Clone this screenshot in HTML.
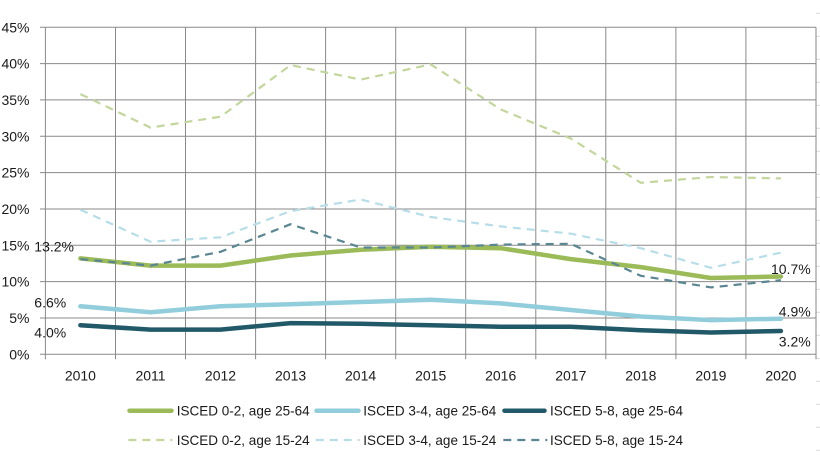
<!DOCTYPE html>
<html><head><meta charset="utf-8"><style>
html,body{margin:0;padding:0;background:#fff;}
svg{display:block;}
text{font-family:"Liberation Sans",Arial,sans-serif;font-size:14px;fill:#1a1a1a;}
</style></head><body>
<svg width="820" height="461" viewBox="0 0 820 461" xmlns="http://www.w3.org/2000/svg">
<!-- right faint ticks -->
<g stroke="#d9d9d9" stroke-width="1">
<line x1="816" y1="13.3" x2="820" y2="13.3"/><line x1="816" y1="36.3" x2="820" y2="36.3"/><line x1="816" y1="59.3" x2="820" y2="59.3"/><line x1="816" y1="82.3" x2="820" y2="82.3"/><line x1="816" y1="105.3" x2="820" y2="105.3"/><line x1="816" y1="128.3" x2="820" y2="128.3"/><line x1="816" y1="151.3" x2="820" y2="151.3"/><line x1="816" y1="174.3" x2="820" y2="174.3"/><line x1="816" y1="197.3" x2="820" y2="197.3"/><line x1="816" y1="220.3" x2="820" y2="220.3"/><line x1="816" y1="243.3" x2="820" y2="243.3"/><line x1="816" y1="266.3" x2="820" y2="266.3"/><line x1="816" y1="289.3" x2="820" y2="289.3"/><line x1="816" y1="312.3" x2="820" y2="312.3"/><line x1="816" y1="335.3" x2="820" y2="335.3"/><line x1="816" y1="358.3" x2="820" y2="358.3"/><line x1="816" y1="381.3" x2="820" y2="381.3"/><line x1="816" y1="404.3" x2="820" y2="404.3"/><line x1="816" y1="427.3" x2="820" y2="427.3"/><line x1="816" y1="450.3" x2="820" y2="450.3"/>
</g>
<!-- gridlines -->
<g stroke="#898989" stroke-width="1">
<line x1="40" y1="27.3" x2="816" y2="27.3"/>
<line x1="40" y1="63.6" x2="816" y2="63.6"/>
<line x1="40" y1="99.9" x2="816" y2="99.9"/>
<line x1="40" y1="136.3" x2="816" y2="136.3"/>
<line x1="40" y1="172.6" x2="816" y2="172.6"/>
<line x1="40" y1="209.0" x2="816" y2="209.0"/>
<line x1="40" y1="245.3" x2="816" y2="245.3"/>
<line x1="40" y1="281.6" x2="816" y2="281.6"/>
<line x1="40" y1="318.0" x2="816" y2="318.0"/>
<line x1="40" y1="354.3" x2="816" y2="354.3"/>
<line x1="45.4" y1="27.3" x2="45.4" y2="359.3"/>
<line x1="115.5" y1="27.3" x2="115.5" y2="359.3"/>
<line x1="185.5" y1="27.3" x2="185.5" y2="359.3"/>
<line x1="255.6" y1="27.3" x2="255.6" y2="359.3"/>
<line x1="325.6" y1="27.3" x2="325.6" y2="359.3"/>
<line x1="395.7" y1="27.3" x2="395.7" y2="359.3"/>
<line x1="465.7" y1="27.3" x2="465.7" y2="359.3"/>
<line x1="535.8" y1="27.3" x2="535.8" y2="359.3"/>
<line x1="605.8" y1="27.3" x2="605.8" y2="359.3"/>
<line x1="675.9" y1="27.3" x2="675.9" y2="359.3"/>
<line x1="745.9" y1="27.3" x2="745.9" y2="359.3"/>
<line x1="816" y1="27.3" x2="816" y2="359.3"/>
</g>
<!-- y labels -->
<g text-anchor="end">
<text x="29.5" y="32.3">45%</text>
<text x="29.5" y="68.6">40%</text>
<text x="29.5" y="104.9">35%</text>
<text x="29.5" y="141.3">30%</text>
<text x="29.5" y="177.6">25%</text>
<text x="29.5" y="214.0">20%</text>
<text x="29.5" y="250.3">15%</text>
<text x="29.5" y="286.6">10%</text>
<text x="29.5" y="323.0">5%</text>
<text x="29.5" y="359.3">0%</text>
</g>
<!-- x labels -->
<g text-anchor="middle" style="font-size:15px">
<text x="80.4" y="380.5">2010</text>
<text x="150.5" y="380.5">2011</text>
<text x="220.5" y="380.5">2012</text>
<text x="290.6" y="380.5">2013</text>
<text x="360.6" y="380.5">2014</text>
<text x="430.7" y="380.5">2015</text>
<text x="500.7" y="380.5">2016</text>
<text x="570.8" y="380.5">2017</text>
<text x="640.8" y="380.5">2018</text>
<text x="710.9" y="380.5">2019</text>
<text x="780.9" y="380.5">2020</text>
</g>
<!-- solid series -->
<g fill="none" stroke-width="4.5" stroke-linecap="round" stroke-linejoin="round">
<polyline stroke="#9BBB59" points="80.4,258.4 150.5,265.6 220.5,265.6 290.6,255.5 360.6,249.7 430.7,246.8 500.7,248.2 570.8,259.1 640.8,267.1 710.9,278.0 780.9,276.5"/>
<polyline stroke="#92CDDC" points="80.4,306.3 150.5,312.2 220.5,306.3 290.6,304.2 360.6,302.0 430.7,299.8 500.7,303.4 570.8,310.0 640.8,316.5 710.9,320.1 780.9,318.7"/>
<polyline stroke="#215968" points="80.4,325.2 150.5,329.6 220.5,329.6 290.6,323.1 360.6,323.8 430.7,325.2 500.7,326.7 570.8,326.7 640.8,330.3 710.9,332.5 780.9,331.0"/>
</g>
<!-- dashed series -->
<g fill="none" stroke-width="2.2" stroke-dasharray="8 6" stroke-linejoin="round">
<polyline stroke="#C3D69B" points="80.4,94.1 150.5,127.6 220.5,116.7 290.6,65.1 360.6,79.6 430.7,64.4 500.7,109.4 570.8,138.5 640.8,182.8 710.9,177.0 780.9,178.4"/>
<polyline stroke="#B7DEE8" points="80.4,209.7 150.5,241.7 220.5,237.3 290.6,211.1 360.6,199.5 430.7,217.0 500.7,226.4 570.8,233.7 640.8,248.2 710.9,267.8 780.9,252.6"/>
<polyline stroke="#5A8692" points="80.4,259.1 150.5,265.6 220.5,251.8 290.6,224.2 360.6,247.5 430.7,247.5 500.7,244.6 570.8,243.8 640.8,275.8 710.9,287.4 780.9,280.2"/>
</g>
<!-- data labels -->
<text x="34.3" y="251.7">13.2%</text>
<text x="34.3" y="307.3">6.6%</text>
<text x="34.3" y="337.3">4.0%</text>
<text x="810.7" y="274" text-anchor="end">10.7%</text>
<text x="810.7" y="316.7" text-anchor="end">4.9%</text>
<text x="810.7" y="346.7" text-anchor="end">3.2%</text>
<!-- legend -->
<g stroke-linecap="round">
<line x1="129.5" y1="410.7" x2="171.5" y2="410.7" stroke="#9BBB59" stroke-width="4.5"/>
<line x1="316.5" y1="410.7" x2="358.5" y2="410.7" stroke="#92CDDC" stroke-width="4.5"/>
<line x1="504.5" y1="410.7" x2="544.5" y2="410.7" stroke="#215968" stroke-width="4.5"/>
</g>
<g stroke-width="2.2" stroke-dasharray="8 6">
<line x1="128.3" y1="440" x2="172.3" y2="440" stroke="#C3D69B"/>
<line x1="315.7" y1="440" x2="359.7" y2="440" stroke="#B7DEE8"/>
<line x1="503.3" y1="440" x2="547.3" y2="440" stroke="#5A8692"/>
</g>
<text x="176.7" y="415.5" textLength="133" lengthAdjust="spacingAndGlyphs">ISCED 0-2, age 25-64</text>
<text x="363.3" y="415.5" textLength="133" lengthAdjust="spacingAndGlyphs">ISCED 3-4, age 25-64</text>
<text x="550" y="415.5" textLength="133" lengthAdjust="spacingAndGlyphs">ISCED 5-8, age 25-64</text>
<text x="176.7" y="445" textLength="133" lengthAdjust="spacingAndGlyphs">ISCED 0-2, age 15-24</text>
<text x="363.3" y="445" textLength="133" lengthAdjust="spacingAndGlyphs">ISCED 3-4, age 15-24</text>
<text x="550" y="445" textLength="133" lengthAdjust="spacingAndGlyphs">ISCED 5-8, age 15-24</text>
</svg>
</body></html>
